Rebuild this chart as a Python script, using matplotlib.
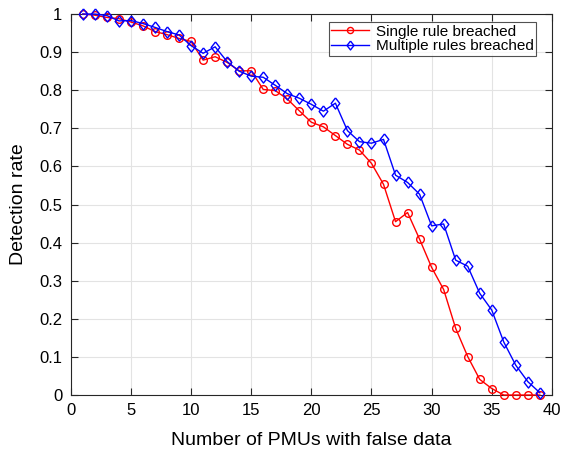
import matplotlib
matplotlib.use("Agg")
import matplotlib.pyplot as plt
import numpy as np

plt.rcParams['font.family'] = ['Liberation Sans', 'DejaVu Sans']

pmus = list(range(1, 40))
single = [1.0, 0.997, 0.991, 0.988, 0.979, 0.969, 0.954, 0.946, 0.936, 0.928,
          0.879, 0.888, 0.873, 0.851, 0.851, 0.802, 0.799, 0.777, 0.746, 0.716,
          0.704, 0.681, 0.658, 0.643, 0.608, 0.553, 0.455, 0.479, 0.409, 0.335,
          0.277, 0.175, 0.101, 0.041, 0.017, 0.0, 0.0, 0.0, 0.0]
multiple = [1.0, 1.0, 0.996, 0.982, 0.983, 0.975, 0.965, 0.954, 0.945, 0.917,
            0.897, 0.914, 0.875, 0.850, 0.837, 0.834, 0.813, 0.791, 0.779, 0.763,
            0.745, 0.766, 0.694, 0.665, 0.661, 0.671, 0.577, 0.558, 0.527, 0.444,
            0.449, 0.354, 0.338, 0.267, 0.223, 0.139, 0.078, 0.035, 0.006]

diamond = [(0, 1), (0.78, 0), (0, -1), (-0.78, 0), (0, 1)]

fig = plt.figure(figsize=(5.62, 4.53), dpi=100)
ax = fig.add_axes([0.126, 0.128, 0.856, 0.841])

ax.plot(pmus, single, color='#ff0000', marker='o', markersize=5.5, markerfacecolor='none',
        markeredgewidth=1, linewidth=1, label='Single rule breached', clip_on=False, zorder=3)
ax.plot(pmus, multiple, color='#0000ff', marker=diamond, markersize=8, markerfacecolor='none',
        markeredgewidth=1, linewidth=1, label='Multiple rules breached', clip_on=False, zorder=3)

ax.set_xlim(0, 40)
ax.set_ylim(0, 1)
ax.set_xticks(np.arange(0, 41, 5))
ax.set_yticks(np.arange(0, 1.01, 0.1))
ax.set_yticklabels(['0', '0.1', '0.2', '0.3', '0.4', '0.5', '0.6', '0.7', '0.8', '0.9', '1'])
ax.grid(True, color='#e3e3e3', linewidth=0.8)
ax.set_axisbelow(True)
ax.tick_params(direction='in', top=True, right=True, labelsize=12, length=5, color='#262626',
               labelcolor='#000000')
ax.tick_params(axis='x', pad=6)
ax.tick_params(axis='y', pad=6)
for s in ax.spines.values():
    s.set_color('#262626')
    s.set_linewidth(0.8)
ax.set_xlabel('Number of PMUs with false data', fontsize=14, labelpad=10)
ax.set_ylabel('Detection rate', fontsize=14, labelpad=9)

leg = ax.legend(loc='upper right', bbox_to_anchor=(0.976, 0.99), fontsize=11, frameon=True, fancybox=False,
                edgecolor='#262626', handlelength=2.5, borderpad=0.15, labelspacing=0.05,
                handletextpad=0.4, borderaxespad=0.3, markerscale=0.8)
leg.get_frame().set_linewidth(0.8)

fig.savefig('out.png', dpi=100)
